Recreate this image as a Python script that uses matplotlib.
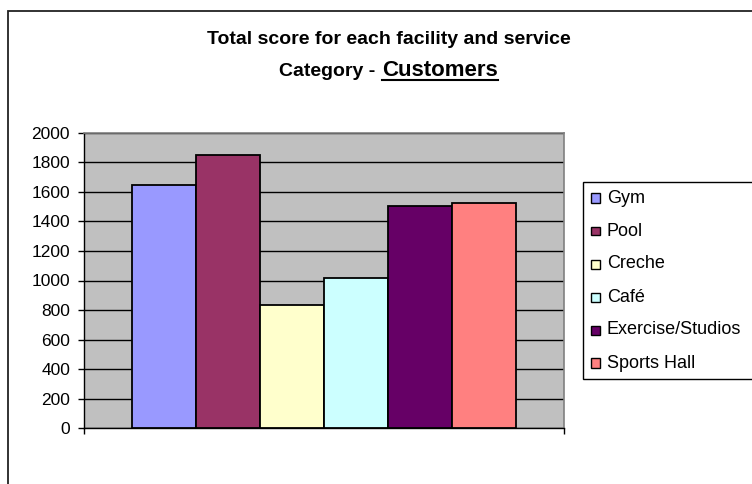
import matplotlib
matplotlib.use("Agg")
import matplotlib.pyplot as plt
from matplotlib.patches import Rectangle
from matplotlib.lines import Line2D
import numpy as np

plt.rcParams['font.family'] = ['Liberation Sans', 'DejaVu Sans']

facilities = ['Gym', 'Pool', 'Creche', 'Café', 'Exercise/Studios', 'Sports Hall']
scores = [1645, 1850, 834, 1015, 1506, 1522]
colours = ['#9999FF', '#993366', '#FFFFCC', '#CCFFFF', '#660066', '#FF8080']
yticks = [0, 200, 400, 600, 800, 1000, 1200, 1400, 1600, 1800, 2000]

W, H = 752, 484
fig = plt.figure(figsize=(W / 100, H / 100), dpi=100)
fig.patch.set_facecolor('white')


def fx(px):
    return px / W


def fy(py):
    return 1 - py / H


# chart area border (cropped on right and bottom)
fig.patches.append(Rectangle((fx(7.5), -0.05), 1.2, fy(11) + 0.05, transform=fig.transFigure,
                             fill=False, edgecolor='#222222', linewidth=1.3, zorder=0))

ax = fig.add_axes([fx(84), fy(428.3), fx(563.5) - fx(84), fy(132.7) - fy(428.3)])
ax.set_facecolor('#C0C0C0')

x = np.arange(len(scores)) + 0.5
ax.bar(x, scores, width=1.0, color=colours, edgecolor='black', linewidth=1.3, zorder=3)

ax.set_xlim(-0.75, len(scores) + 0.75)
ax.set_ylim(0, 2000)
ax.set_yticks(yticks)
ax.set_yticklabels([str(v) for v in yticks], fontsize=12.5)
ax.set_xticks([-0.75, len(scores) + 0.75])
ax.set_xticklabels(['', ''])
ax.tick_params(axis='y', direction='out', length=4, width=1, pad=6, colors='black')
ax.tick_params(axis='x', direction='out', length=4, width=1)
ax.yaxis.grid(True, color='black', linewidth=1.0, zorder=1)
ax.set_axisbelow(True)

for side in ['left', 'bottom']:
    ax.spines[side].set_color('black')
    ax.spines[side].set_linewidth(1.0)
for side in ['top', 'right']:
    ax.spines[side].set_color('#808080')
    ax.spines[side].set_linewidth(1.2)

# title
fig.text(fx(388.5), fy(40), 'Total score for each facility and service', ha='center', va='center',
         fontsize=14, fontweight='bold')
t1 = fig.text(fx(375), fy(71), 'Category -', ha='right', va='center', fontsize=14, fontweight='bold')
t2 = fig.text(fx(382), fy(70), 'Customers', ha='left', va='center', fontsize=16, fontweight='bold')
fig.canvas.draw()
bb = t2.get_window_extent()
fig.lines.append(Line2D([bb.x0 / W, bb.x1 / W], [fy(79.5), fy(79.5)], transform=fig.transFigure,
                        color='black', linewidth=1.5))

# legend
fig.patches.append(Rectangle((fx(583), fy(379)), 1.0, fy(182) - fy(379), transform=fig.transFigure,
                             facecolor='white', edgecolor='black', linewidth=1.0))
row_y = 198
for name, c in zip(facilities, colours):
    fig.patches.append(Rectangle((fx(590.5), fy(row_y + 4.5)), fx(9), fy(row_y - 4.5) - fy(row_y + 4.5),
                                 transform=fig.transFigure, facecolor=c, edgecolor='black', linewidth=1.0))
    fig.text(fx(607), fy(row_y), name, ha='left', va='center', fontsize=13)
    row_y += 33

fig.savefig('out.png', dpi=100)
